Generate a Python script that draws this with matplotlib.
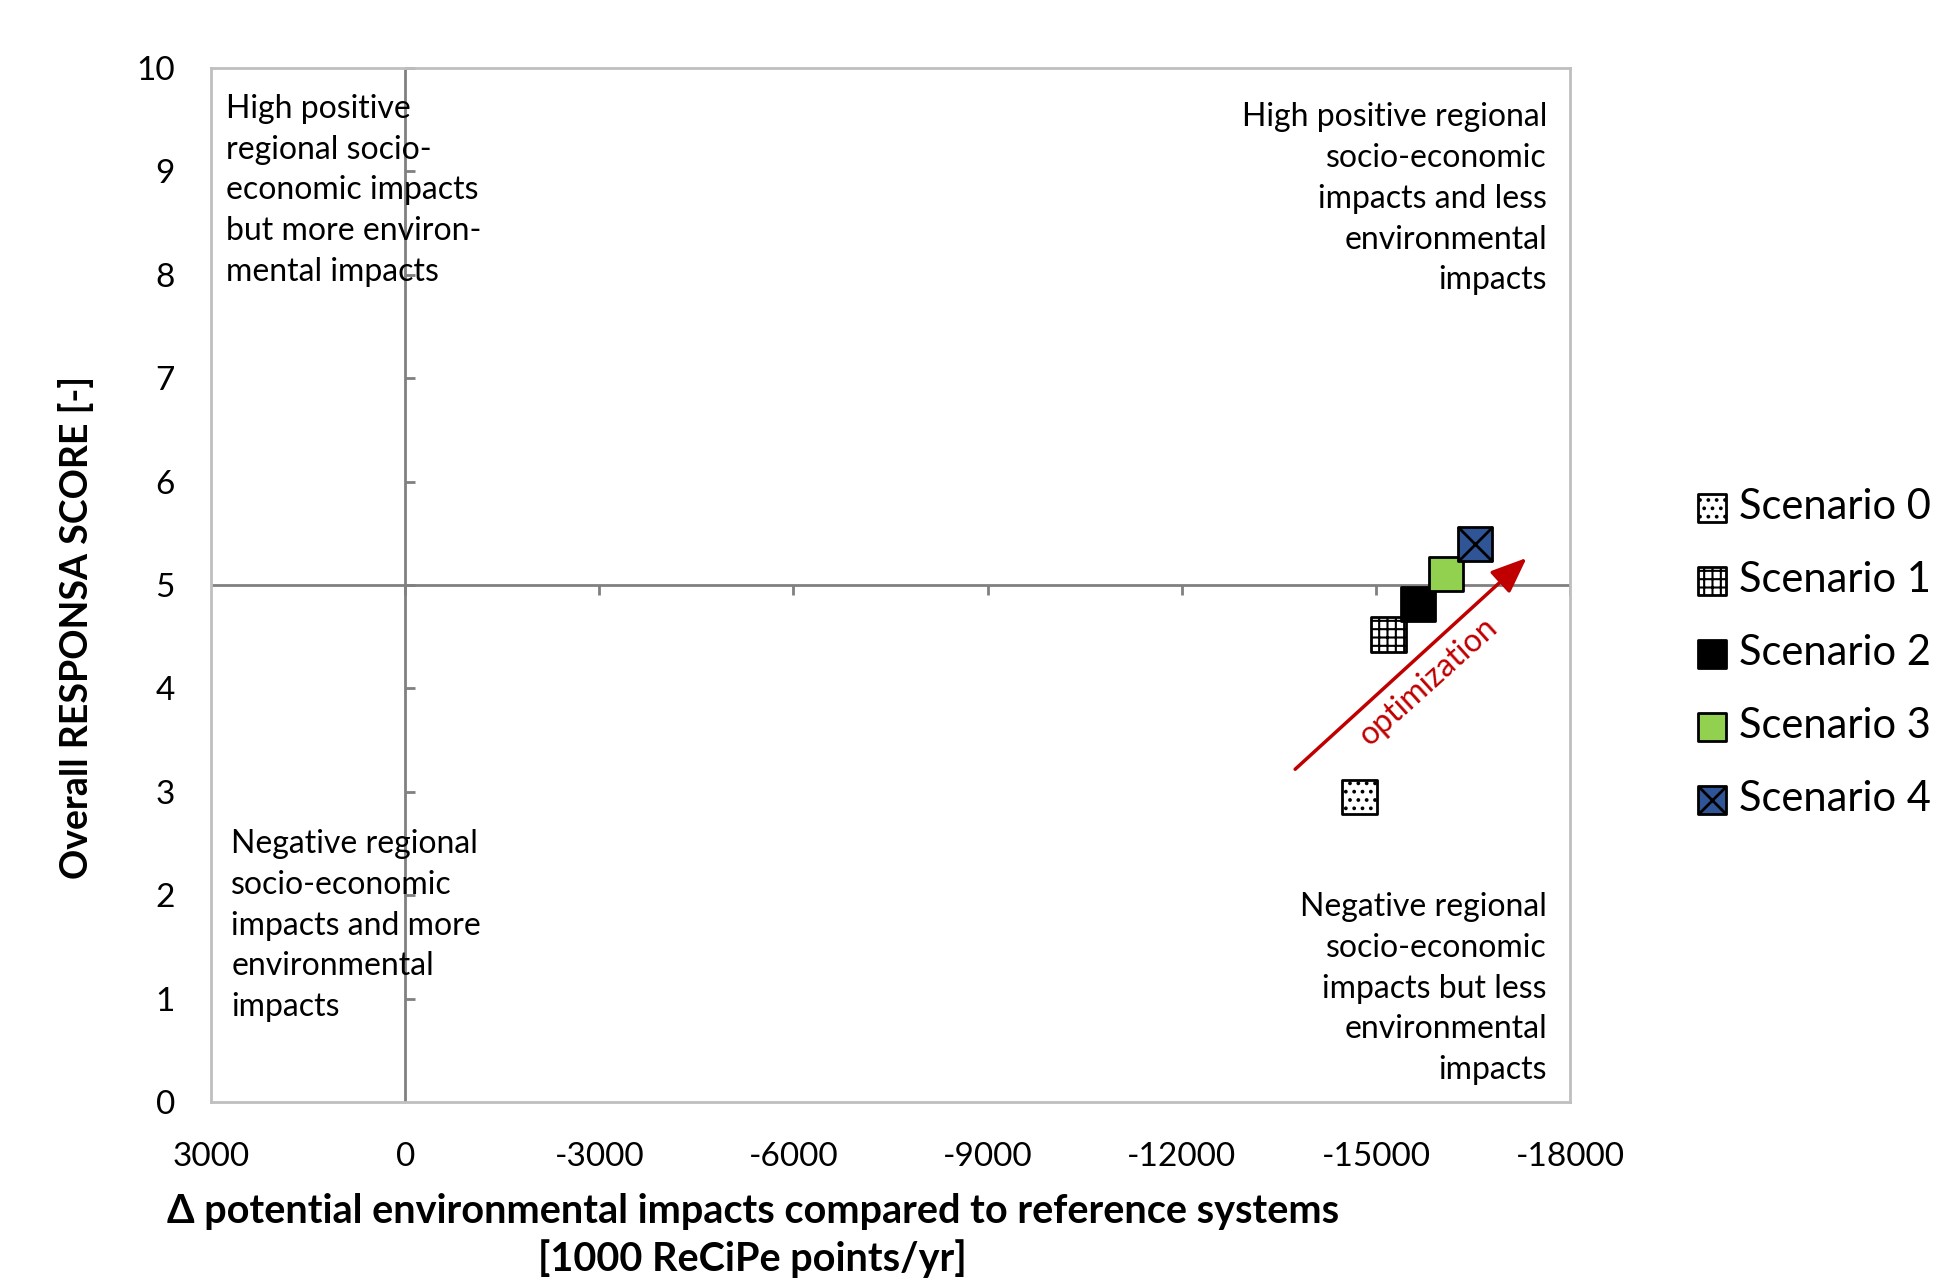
import matplotlib.pyplot as plt

plt.rcParams['font.family'] = ['Lato', 'DejaVu Sans']
plt.rcParams['hatch.linewidth'] = 1.5
plt.rcParams['axes.unicode_minus'] = False

# Data
scenarios = ['Scenario 0', 'Scenario 1', 'Scenario 2', 'Scenario 3', 'Scenario 4']
env_impact = [-14750, -15190, -15645, -16080, -16535]
responsa_score = [2.95, 4.52, 4.82, 5.11, 5.40]
face_colors = ['white', 'white', 'black', '#92D050', '#2F5597']
hatches = ['..', '++', None, None, None]

x_ticks = [3000, 0, -3000, -6000, -9000, -12000, -15000, -18000]
y_ticks = list(range(0, 11))

arrow_start = (-13720, 3.20)
arrow_end = (-17360, 5.28)

fig = plt.figure(figsize=(19.48, 12.79), dpi=100)
ax = fig.add_axes([0.1083, 0.1384, 0.6977, 0.8084])

ax.set_xlim(3000, -18000)
ax.set_ylim(0, 10)
for sp in ax.spines.values():
    sp.set_color('#BFBFBF')
    sp.set_linewidth(2)

ax.set_xticks(x_ticks)
ax.set_yticks(y_ticks)
ax.tick_params(length=0, labelsize=24, colors='black')
ax.tick_params(axis='x', pad=29)
ax.tick_params(axis='y', pad=26)

# crossing axes through (0, 5) with their tick marks
ax.axhline(5, color='#808080', lw=2, zorder=1)
ax.axvline(0, color='#808080', lw=2, zorder=1)
ax.plot(x_ticks[1:], [5] * (len(x_ticks) - 1), ls='none', marker=3,
        ms=7, mew=2, color='#808080', zorder=1)
ax.plot([0] * (len(y_ticks) - 1), y_ticks[1:], ls='none', marker=1,
        ms=7, mew=2, color='#808080', zorder=1, clip_on=False)

# scenario markers
handles = []
for i, name in enumerate(scenarios):
    h = ax.scatter(env_impact[i], responsa_score[i], s=25 ** 2, marker='s',
                   facecolor=face_colors[i], edgecolor='black', linewidth=2,
                   hatch=hatches[i], zorder=3)
    if name == 'Scenario 4':
        hx = ax.scatter(env_impact[i], responsa_score[i], s=25 ** 2, marker='x',
                        color='black', linewidth=2, zorder=4)
        h = (h, hx)
    handles.append(h)

# optimization arrow
ax.annotate('', xy=arrow_end, xytext=arrow_start,
            arrowprops=dict(arrowstyle='-|>,head_length=2.2,head_width=0.9',
                            color='#C00000', lw=2.5), zorder=2)
ax.text(-15818, 4.07, 'optimization', color='#C00000', fontsize=23,
        rotation=42, ha='center', va='center')

# quadrant descriptions
txt = dict(transform=ax.transAxes, va='top', fontsize=23, linespacing=1.45)
ax.text(0.011, 0.975, 'High positive\nregional socio-\neconomic impacts\nbut more environ-\nmental impacts',
        ha='left', **txt)
ax.text(0.983, 0.967, 'High positive regional\nsocio-economic\nimpacts and less\nenvironmental\nimpacts',
        ha='right', **txt)
ax.text(0.015, 0.264, 'Negative regional\nsocio-economic\nimpacts and more\nenvironmental\nimpacts',
        ha='left', **txt)
ax.text(0.983, 0.203, 'Negative regional\nsocio-economic\nimpacts but less\nenvironmental\nimpacts',
        ha='right', **txt)

ax.set_xlabel('Δ potential environmental impacts compared to reference systems\n[1000 ReCiPe points/yr]',
              fontsize=28.5, fontweight='bold', linespacing=1.28)
ax.xaxis.set_label_coords(0.3985, -0.088)
ax.set_ylabel('Overall RESPONSA SCORE [-]', fontsize=27, fontweight='bold')
ax.yaxis.set_label_coords(-0.086, 0.459)

fig.legend(handles, scenarios, loc='center left', bbox_to_anchor=(0.8596, 0.4895),
           frameon=False, fontsize=30, labelspacing=0.84, handletextpad=0.25,
           handlelength=0.8, borderpad=0, markerscale=0.78)

fig.savefig('out.png', dpi=100)
